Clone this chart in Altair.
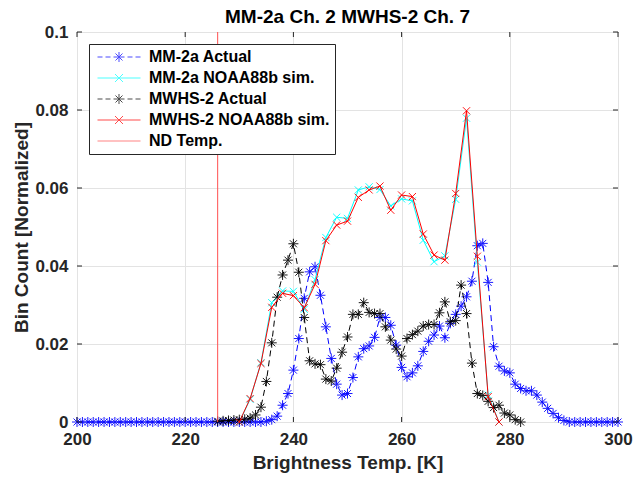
import altair as alt
import pandas as pd

# ---------------- data ----------------
T_mm = list(range(200, 301))
mm_actual = [0.0] * 35 + [
    0.0002, 0.0006, 0.0015, 0.0043, 0.0073, 0.0133, 0.0214, 0.0317, 0.0385, 0.0398,
    0.0325, 0.0244, 0.0163, 0.0097, 0.0069, 0.0073, 0.0114, 0.0167, 0.0188, 0.0195,
    0.0217, 0.0268, 0.0268, 0.0248, 0.0197, 0.0140, 0.0116, 0.0126, 0.0144, 0.0181,
    0.0207, 0.0223, 0.0246, 0.0216, 0.0253, 0.0276, 0.0297, 0.0321, 0.0361, 0.0452,
    0.0458, 0.0358, 0.0193, 0.0143, 0.0131, 0.0126, 0.0097, 0.0086, 0.0080, 0.0080,
    0.0069, 0.0051, 0.0035, 0.0022, 0.0011, 0.0004] + [0.0] * 10

T_mw = list(range(226, 283))
mw_actual = [
    0.0002, 0.0003, 0.0004, 0.0005, 0.0006, 0.0007, 0.0010, 0.0018, 0.0038, 0.0104,
    0.0203, 0.0320, 0.0377, 0.0415, 0.0457, 0.0384, 0.0268, 0.0157, 0.0149, 0.0147,
    0.0110, 0.0105, 0.0138, 0.0179, 0.0218, 0.0276, 0.0276, 0.0306, 0.0281, 0.0278,
    0.0278, 0.0244, 0.0210, 0.0187, 0.0169, 0.0214, 0.0224, 0.0233, 0.0246, 0.0250,
    0.0250, 0.0280, 0.0308, 0.0257, 0.0260, 0.0351, 0.0278, 0.0151, 0.0073, 0.0068,
    0.0053, 0.0037, 0.0043, 0.0023, 0.0018, 0.0006, 0.0]

T_sim = list(range(230, 279, 2))
mm_sim = [0.0, 0.0058, 0.0152, 0.0306, 0.0336, 0.0335, 0.0289, 0.0365, 0.0473, 0.0525,
          0.0522, 0.0595, 0.0603, 0.0596, 0.0554, 0.0572, 0.0567, 0.0466, 0.0411, 0.0426,
          0.0571, 0.0779, 0.0410, 0.0069, 0.0]
mw_sim = [0.0, 0.0060, 0.0150, 0.0294, 0.0330, 0.0324, 0.0293, 0.0353, 0.0465, 0.0505,
          0.0515, 0.0576, 0.0595, 0.0605, 0.0543, 0.0582, 0.0578, 0.0482, 0.0428, 0.0415,
          0.0586, 0.0798, 0.0425, 0.0065, 0.0]

nd_temp = [226.0]

x_ticks = [200, 220, 240, 260, 280, 300]
y_ticks = [0, 0.02, 0.04, 0.06, 0.08, 0.1]

series_names = ["MM-2a Actual", "MM-2a NOAA88b sim.", "MWHS-2 Actual",
                "MWHS-2 NOAA88b sim.", "ND Temp."]
series_colors = ["#0000FF", "#00FFFF", "#000000", "#FF0000", "#FF5050"]

# ---------------- styling ----------------
FONT = "Liberation Sans"
W, H = 541, 390
AX = "#262626"

AST = "M-1,0L1,0M0,-1L0,1M-0.7,-0.7L0.7,0.7M-0.7,0.7L0.7,-0.7"
XMK = "M-0.8,-0.8L0.8,0.8M-0.8,0.8L0.8,-0.8"

LEG_DASH_AST = ("M-4.3,0L-3.3,0M-2.7,0L-1.7,0M-1.1,0L1.1,0M1.7,0L2.7,0M3.3,0L4.3,0"
                "M0,-1L0,1M-0.7,-0.7L0.7,0.7M-0.7,0.7L0.7,-0.7")
LEG_SOLID_X = "M-4.3,0L4.3,0M-0.8,-0.8L0.8,0.8M-0.8,0.8L0.8,-0.8"
LEG_LINE = "M-4.3,0L4.3,0"
leg_shapes = [LEG_DASH_AST, LEG_SOLID_X, LEG_DASH_AST, LEG_SOLID_X, LEG_LINE]

xs = alt.Scale(domain=[200, 300], nice=False, zero=False)
ys = alt.Scale(domain=[0, 0.1], nice=False, zero=False)

x_axis = alt.Axis(values=x_ticks, title="Brightness Temp. [K]", grid=True,
                  gridColor="#E3E3E3", domain=False, ticks=False, labelFlush=False,
                  labelFont=FONT, labelFontSize=17, labelFontWeight="bold",
                  labelColor=AX, labelPadding=9, titleFont=FONT, titleFontSize=19,
                  titleFontWeight="bold", titleColor=AX, titlePadding=6)
y_axis = alt.Axis(values=y_ticks, format=".2~f", title="Bin Count [Normalized]",
                  grid=True, gridColor="#E3E3E3", domain=False, ticks=False,
                  labelFlush=False,
                  labelFont=FONT, labelFontSize=17, labelFontWeight="bold",
                  labelColor=AX, labelPadding=9, titleFont=FONT, titleFontSize=19,
                  titleFontWeight="bold", titleColor=AX, titlePadding=3)


def X(field):
    return alt.X(field, scale=xs, axis=x_axis)


def Y(field):
    return alt.Y(field, scale=ys, axis=y_axis)


def series_layers(T, vals, color, shape, size, dash=None):
    df = pd.DataFrame({"T": T, "v": vals})
    enc = dict(x=X("T:Q"), y=Y("v:Q"))
    line_kw = dict(color=color, strokeWidth=1)
    if dash is not None:
        line_kw["strokeDash"] = dash
    line = alt.Chart(df).mark_line(**line_kw).encode(**enc)
    pts = alt.Chart(df).mark_point(shape=shape, size=size, filled=False,
                                   color=color, strokeWidth=1, opacity=0.9).encode(**enc)
    return [line, pts]


layers = []
layers += series_layers(T_mm, mm_actual, "#0000FF", AST, 100, [6, 4])
layers += series_layers(T_sim, mm_sim, "#00FFFF", XMK, 80)
layers += series_layers(T_mw, mw_actual, "#000000", AST, 100, [6, 4])
layers += series_layers(T_sim, mw_sim, "#FF0000", XMK, 80)

nd = alt.Chart(pd.DataFrame({"T": nd_temp})).mark_rule(
    color="#FF5050", strokeWidth=1).encode(x=X("T:Q"))
layers.append(nd)

# inward ticks on all four sides (MATLAB style)
xt = pd.DataFrame({"T": x_ticks})
yt = pd.DataFrame({"v": y_ticks})
tick_bottom = alt.Chart(xt).mark_rule(color=AX, strokeWidth=1).encode(
    x=X("T:Q"), y=alt.value(H), y2=alt.value(H - 5))
tick_top = alt.Chart(xt).mark_rule(color=AX, strokeWidth=1).encode(
    x=X("T:Q"), y=alt.value(0), y2=alt.value(5))
tick_left = alt.Chart(yt).mark_rule(color=AX, strokeWidth=1).encode(
    y=Y("v:Q"), x=alt.value(0), x2=alt.value(5))
tick_right = alt.Chart(yt).mark_rule(color=AX, strokeWidth=1).encode(
    y=Y("v:Q"), x=alt.value(W), x2=alt.value(W - 5))
layers += [tick_bottom, tick_top, tick_left, tick_right]

# legend carrier (points outside domain, clipped)
leg_df = pd.DataFrame({"series": series_names, "T": [1000] * 5, "v": [1.0] * 5})
leg = alt.Legend(title=None, orient="none", legendX=12, legendY=12,
                 direction="vertical", fillColor="white", strokeColor=AX,
                 padding=5, symbolSize=100, symbolStrokeWidth=1, symbolOffset=17,
                 labelOffset=22, labelFont=FONT, labelFontSize=16,
                 labelFontWeight="bold", labelColor="#000000", rowPadding=5,
                 labelLimit=400)
legend_layer = alt.Chart(leg_df).mark_point(filled=False, clip=True, strokeWidth=1).encode(
    x=X("T:Q"),
    y=Y("v:Q"),
    color=alt.Color("series:N", scale=alt.Scale(domain=series_names, range=series_colors),
                    legend=leg),
    shape=alt.Shape("series:N", scale=alt.Scale(domain=series_names, range=leg_shapes),
                    legend=leg),
)
layers.append(legend_layer)

chart = alt.layer(*layers).properties(
    width=W, height=H,
    title=alt.TitleParams("MM-2a Ch. 2 MWHS-2 Ch. 7", font=FONT, fontSize=19,
                          fontWeight="bold", color="#000000", offset=-4,
                          anchor="middle"),
    autosize=alt.AutoSizeParams(type="none"),
    padding={"left": 77, "top": 32, "right": 15, "bottom": 57},
).configure(
    font=FONT, background="white",
    view=alt.ViewConfig(stroke=AX, strokeWidth=1),
)

chart.save("out.html", embed_options={"renderer": "svg", "actions": False})
